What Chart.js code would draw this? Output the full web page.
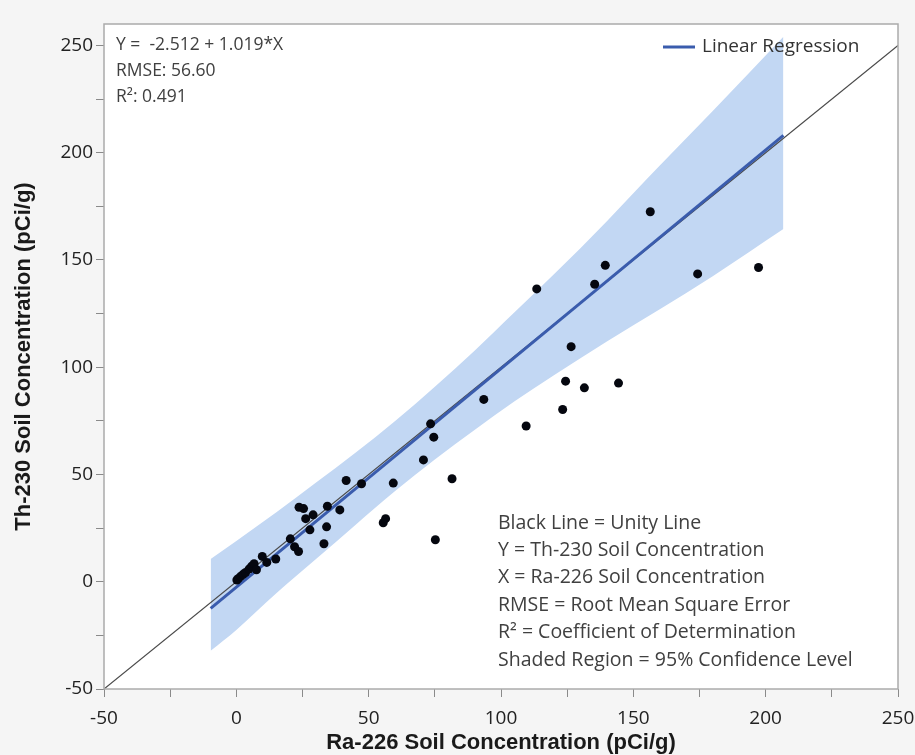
<!DOCTYPE html>
<html>
<head>
<meta charset="utf-8">
<script src="https://cdn.jsdelivr.net/npm/chart.js@4/dist/chart.umd.min.js"></script>
<style>
  html, body { margin: 0; padding: 0; background: #f5f5f5; }
  #wrap { width: 915px; height: 755px; }
</style>
</head>
<body>
<div id="wrap"><canvas id="c" width="915" height="755"></canvas></div>
<script>
// ---- Data ----
const ra226 = [0.2, 0.8, 1.7, 2.6, 3.5, 4.8, 5.8, 6.7, 7.6, 9.8, 11.5, 14.9, 20.4, 22.0, 23.5,
  23.7, 25.4, 26.2, 29.0, 27.8, 33.1, 34.1, 34.4, 39.1, 41.5, 47.3, 55.5, 56.4, 59.3,
  70.7, 73.4, 74.6, 75.2, 81.5, 93.5, 109.5, 113.5, 123.3, 124.4, 126.5, 131.5, 135.4,
  139.4, 144.4, 156.4, 174.3, 197.3];
const th230 = [0.8, 1.5, 2.6, 3.5, 4.3, 5.9, 7.2, 8.4, 5.6, 11.8, 9.0, 10.6, 20.0, 16.3, 14.1,
  34.7, 34.1, 29.4, 31.2, 24.2, 17.7, 25.6, 35.2, 33.5, 47.2, 45.7, 27.5, 29.4, 46.0,
  56.8, 73.6, 67.4, 19.6, 48.0, 85.0, 72.6, 136.5, 80.3, 93.5, 109.6, 90.4, 138.7,
  147.5, 92.6, 172.5, 143.5, 146.5];

// 95% confidence band edges (read from the shaded region)
const bandX     = [-9.7, 0, 15, 30, 45, 60, 75, 90, 105, 120, 140, 160, 180, 206.7];
const bandUpper = [10.6, 19.0, 32.3, 46.1, 60.1, 74.9, 90.9, 107.7, 125.5, 143.3, 168.1, 194.0, 219.4, 254.1];
const bandLower = [-32.2, -22.5, -5.5, 10.5, 26.5, 42.3, 57.0, 70.7, 84.0, 96.3, 112.0, 127.0, 142.4, 164.4];

// Linear regression (as printed on the chart)
const regIntercept = -2.512;
const regSlope = 1.019;
const regRangeX = [-9.7, 206.7];

// Unity line
const unityX = [-50, 250];

// Axis ticks (marks every 25, labels every 50)
const xTickMarks = [-50, -25, 0, 25, 50, 75, 100, 125, 150, 175, 200, 225, 250];
const yTickMarks = [-50, -25, 0, 25, 50, 75, 100, 125, 150, 175, 200, 225, 250];
const xTickLabels = [-50, 0, 50, 100, 150, 200, 250];
const yTickLabels = [-50, 0, 50, 100, 150, 200, 250];

const statLines = ['Y =  -2.512 + 1.019*X', 'RMSE: 56.60', 'R\u00B2: 0.491'];
const noteLines = ['Black Line = Unity Line', 'Y = Th-230 Soil Concentration',
  'X = Ra-226 Soil Concentration', 'RMSE = Root Mean Square Error',
  'R\u00B2 = Coefficient of Determination', 'Shaded Region = 95% Confidence Level'];
const legendLabel = 'Linear Regression';

// ---- Build datasets ----
const pts = ra226.map((x, i) => ({ x: x, y: th230[i] }));
const upper = bandX.map((x, i) => ({ x: x, y: bandUpper[i] }));
const lower = bandX.map((x, i) => ({ x: x, y: bandLower[i] }));
const reg = regRangeX.map(x => ({ x: x, y: regIntercept + regSlope * x }));
const unity = unityX.map(x => ({ x: x, y: x }));

const BLUE = '#3a5cad';
const FONT = "'Open Sans', 'Noto Sans', sans-serif";
const TITLE_FONT = "'Liberation Sans', Arial, sans-serif";

const deco = {
  id: 'deco',
  beforeDraw(chart) {
    const { ctx, chartArea: a } = chart;
    ctx.save();
    ctx.fillStyle = '#f5f5f5';
    ctx.fillRect(0, 0, chart.width, chart.height);
    ctx.fillStyle = '#ffffff';
    ctx.fillRect(a.left, a.top, a.right - a.left, a.bottom - a.top);
    ctx.restore();
  },
  afterDraw(chart) {
    const { ctx, chartArea: a } = chart;
    ctx.save();
    ctx.strokeStyle = '#ababab';
    ctx.lineWidth = 1.5;
    ctx.strokeRect(a.left, a.top, a.right - a.left, a.bottom - a.top);

    ctx.fillStyle = '#404040';
    ctx.textBaseline = 'middle';
    ctx.textAlign = 'left';
    ctx.font = '17.5px ' + FONT;
    statLines.forEach((t, i) => ctx.fillText(t, a.left + 12, a.top + 21 + i * 26));
    ctx.font = '19.5px ' + FONT;
    noteLines.forEach((t, i) => ctx.fillText(t, 498, 523 + i * 27.4));

    // legend
    ctx.strokeStyle = BLUE;
    ctx.lineWidth = 3;
    ctx.beginPath();
    ctx.moveTo(663, 47); ctx.lineTo(695, 47);
    ctx.stroke();
    ctx.fillStyle = '#333333';
    ctx.font = '19px ' + FONT;
    ctx.fillText(legendLabel, 702, 47);
    ctx.restore();
  }
};

new Chart(document.getElementById('c'), {
  type: 'scatter',
  data: {
    datasets: [
      { label: 'Data', data: pts, pointRadius: 4.5, pointHoverRadius: 4.5,
        backgroundColor: '#05070f', borderWidth: 0, showLine: false },
      { label: 'Linear Regression', data: reg, showLine: true, pointRadius: 0,
        borderColor: BLUE, borderWidth: 3, fill: false },
      { label: 'Unity', data: unity, showLine: true, pointRadius: 0,
        borderColor: '#4a4a4a', borderWidth: 1.2, fill: false },
      { label: 'Upper', data: upper, showLine: true, pointRadius: 0, borderWidth: 0,
        borderColor: 'rgba(0,0,0,0)', backgroundColor: 'rgb(194,215,243)',
        fill: '+1', cubicInterpolationMode: 'monotone' },
      { label: 'Lower', data: lower, showLine: true, pointRadius: 0, borderWidth: 0,
        borderColor: 'rgba(0,0,0,0)', fill: false, cubicInterpolationMode: 'monotone' }
    ]
  },
  options: {
    responsive: false,
    animation: false,
    events: [],
    layout: { padding: { top: 24, right: 17, left: 0, bottom: 0 } },
    plugins: { legend: { display: false }, tooltip: { enabled: false } },
    scales: {
      x: {
        type: 'linear', min: -50, max: 250,
        afterBuildTicks(s) { s.ticks = xTickMarks.map(v => ({ value: v })); },
        afterFit(s) { s.height = 66; s.paddingLeft = 0; s.paddingRight = 0; },
        border: { display: false },
        grid: { drawOnChartArea: false, drawTicks: true, tickLength: 8, color: '#8a8a8a' },
        ticks: { padding: 10, color: '#222', font: { family: FONT, size: 19 },
          maxRotation: 0, autoSkip: false,
          callback: v => xTickLabels.includes(v) ? String(v) : '' },
        title: { display: true, text: 'Ra-226 Soil Concentration (pCi/g)', color: '#1a1a1a',
          font: { family: TITLE_FONT, size: 22, weight: 'bold' },
          padding: { top: 0, bottom: -1 } }
      },
      y: {
        type: 'linear', min: -50, max: 260,
        afterBuildTicks(s) { s.ticks = yTickMarks.map(v => ({ value: v })); },
        afterFit(s) { s.width = 104; s.paddingTop = 0; s.paddingBottom = 0; },
        border: { display: false },
        grid: { drawOnChartArea: false, drawTicks: true, tickLength: 8, color: '#8a8a8a' },
        ticks: { padding: 3, color: '#222', font: { family: FONT, size: 19 },
          autoSkip: false,
          callback: v => yTickLabels.includes(v) ? String(v) : '' },
        title: { display: true, text: 'Th-230 Soil Concentration (pCi/g)', color: '#1a1a1a',
          font: { family: TITLE_FONT, size: 22, weight: 'bold' },
          padding: { top: 11, bottom: 0 } }
      }
    }
  },
  plugins: [deco]
});
</script>
</body>
</html>
